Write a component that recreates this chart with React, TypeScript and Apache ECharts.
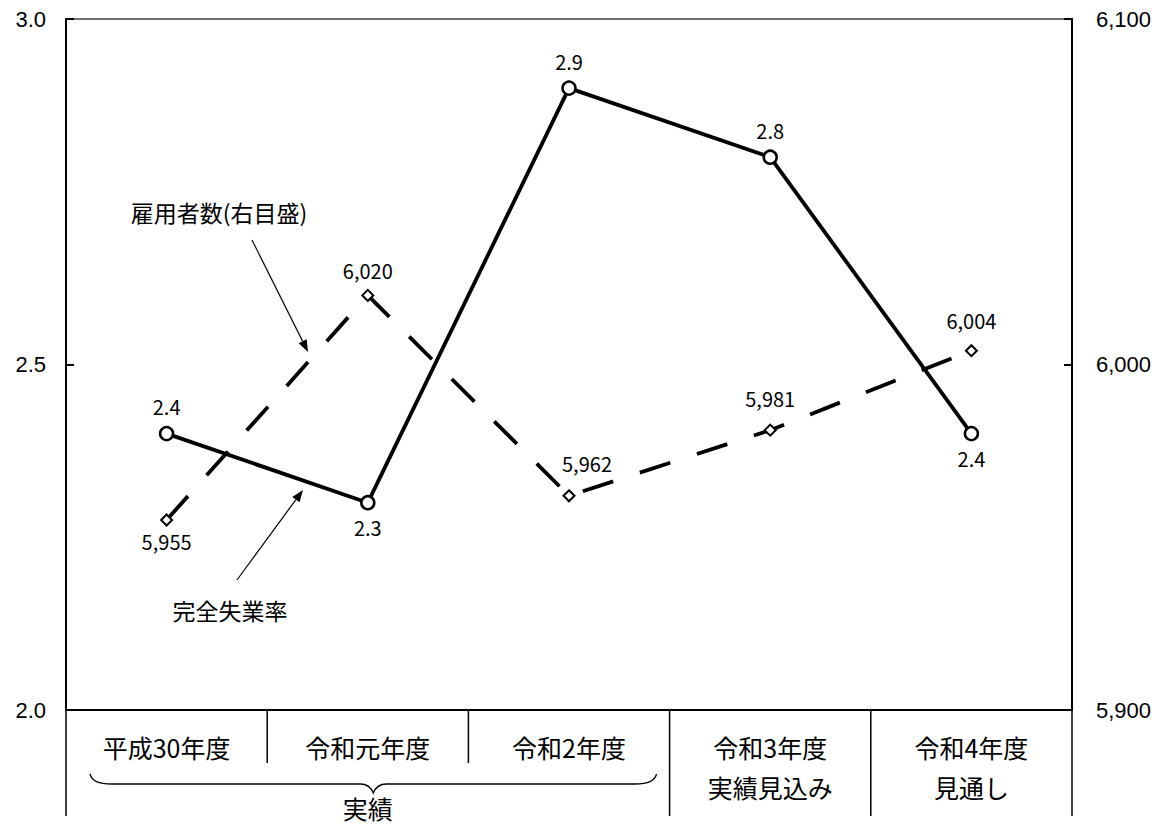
import React, { useEffect, useRef } from 'react';
import * as echarts from 'echarts';

// ---- data ----
const categories = ['平成30年度', '令和元年度', '令和2年度', '令和3年度', '令和4年度'];
const subLabels = ['', '', '', '実績見込み', '見通し'];
const groupLabel = '実績';
const groupSpan = 3; // first three categories are 実績
const rateName = '完全失業率';
const employeesName = '雇用者数(右目盛)';
const unemploymentRate = [2.4, 2.3, 2.9, 2.8, 2.4];
const employees = [5955, 6020, 5962, 5981, 6004];
const leftAxis = { min: 2.0, max: 3.0, interval: 0.5 };
const rightAxis = { min: 5900, max: 6100, interval: 100 };

// ---- label layout ----
const rateLabelPos = ['top', 'bottom', 'top', 'top', 'bottom'];
const rateLabelDist = [9, 7, 9, 9, 7];
const empLabelPos = ['bottom', 'top', 'top', 'top', 'top'];
const empLabelDist = [5, 8, 16, 15, 14];
const empLabelOffset = [[0, 0], [0, 0], [18, 0], [0, 0], [0, 0]];

const BRACE_D =
  'M0,0 C2,7 8,10 22,10 L270,10 C278,10 281,14 283,19 C285,14 288,10 296,10 L544,10 C558,10 564,7 566,0';
echarts.graphic.registerShape('brace', echarts.graphic.extendPath(BRACE_D, {}));

const JP = '"Noto Sans CJK JP", sans-serif';
const LAT = '"Liberation Sans", Arial, sans-serif';

function txt(text: string, x: number, y: number, size: number) {
  return {
    type: 'text',
    style: {
      text,
      x,
      y,
      fill: '#000',
      font: `${size}px ${JP}`,
      align: 'center',
      verticalAlign: 'middle',
      textAlign: 'center',
      textVerticalAlign: 'middle',
    },
  };
}

function arrow(x1: number, y1: number, x2: number, y2: number) {
  const dx = x2 - x1;
  const dy = y2 - y1;
  const len = Math.sqrt(dx * dx + dy * dy);
  const ux = dx / len;
  const uy = dy / len;
  const hl = 12;
  const hw = 4.5;
  const bx = x2 - ux * hl;
  const by = y2 - uy * hl;
  return [
    {
      type: 'line',
      shape: { x1, y1, x2: bx, y2: by },
      style: { stroke: '#000', lineWidth: 1.2 },
    },
    {
      type: 'polygon',
      shape: {
        points: [
          [x2, y2],
          [bx - uy * hw, by + ux * hw],
          [bx + uy * hw, by - ux * hw],
        ],
      },
      style: { fill: '#000' },
    },
  ];
}

export default function App() {
  const ref = useRef<HTMLDivElement>(null);

  useEffect(() => {
    if (!ref.current) return;
    const chart = echarts.init(ref.current, undefined, { renderer: 'svg' });
    chart.setOption({
      animation: false,
      backgroundColor: '#fff',
      grid: {
        left: 66,
        right: 96,
        top: 19,
        bottom: 115,
        show: true,
        borderColor: '#444',
        borderWidth: 1.5,
        backgroundColor: 'transparent',
      },
      xAxis: {
        type: 'category',
        data: categories,
        boundaryGap: true,
        axisLine: { lineStyle: { color: '#000', width: 2 } },
        axisTick: { show: false },
        axisLabel: {
          color: '#000',
          fontSize: 25,
          fontFamily: JP,
          margin: 24,
          interval: 0,
        },
        splitLine: { show: false },
      },
      yAxis: [
        {
          type: 'value',
          position: 'left',
          min: leftAxis.min,
          max: leftAxis.max,
          interval: leftAxis.interval,
          axisLine: { show: true, lineStyle: { color: '#000', width: 2 } },
          axisTick: { show: true, inside: true, length: 8, lineStyle: { color: '#000', width: 2 } },
          axisLabel: {
            color: '#000',
            fontSize: 22,
            fontFamily: LAT,
            margin: 20,
            formatter: (v: number) => v.toFixed(1),
          },
          splitLine: { show: false },
        },
        {
          type: 'value',
          position: 'right',
          min: rightAxis.min,
          max: rightAxis.max,
          interval: rightAxis.interval,
          axisLine: { show: true, lineStyle: { color: '#000', width: 2 } },
          axisTick: { show: true, inside: true, length: 8, lineStyle: { color: '#000', width: 2 } },
          axisLabel: {
            color: '#000',
            fontSize: 22,
            fontFamily: LAT,
            margin: 24,
            formatter: (v: number) => v.toLocaleString('en-US'),
          },
          splitLine: { show: false },
        },
      ],
      series: [
        {
          name: rateName,
          type: 'line',
          yAxisIndex: 0,
          z: 3,
          data: unemploymentRate.map((v, i) => ({
            value: v,
            label: { position: rateLabelPos[i], distance: rateLabelDist[i] },
          })),
          symbol: 'circle',
          symbolSize: 13,
          itemStyle: { color: '#fff', borderColor: '#000', borderWidth: 2.5 },
          lineStyle: { color: '#000', width: 3.8 },
          label: {
            show: true,
            color: '#000',
            fontSize: 20,
            fontFamily: JP,
            formatter: (p: any) => Number(p.value).toFixed(1),
          },
        },
        {
          name: employeesName,
          type: 'line',
          yAxisIndex: 1,
          z: 4,
          data: employees.map((v, i) => ({
            value: v,
            label: { position: empLabelPos[i], distance: empLabelDist[i], offset: empLabelOffset[i] },
          })),
          symbol: 'diamond',
          symbolSize: 11,
          itemStyle: { color: '#fff', borderColor: '#000', borderWidth: 2 },
          lineStyle: { color: '#000', width: 3.8, type: [32, 28], cap: 'butt' },
          label: {
            show: true,
            color: '#000',
            fontSize: 20,
            fontFamily: JP,
            formatter: (p: any) => Number(p.value).toLocaleString('en-US'),
          },
        },
      ],
    });

    // decorations below the category axis, positioned from the chart's scales
    const c0 = chart.convertToPixel({ xAxisIndex: 0 }, categories[0]) as number;
    const c1 = chart.convertToPixel({ xAxisIndex: 0 }, categories[1]) as number;
    const w = c1 - c0;
    const y0 = chart.convertToPixel({ yAxisIndex: 0 }, leftAxis.min) as number;
    const b = (k: number) => c0 - w / 2 + k * w;

    const elements: any[] = [];
    for (let k = 0; k <= categories.length; k++) {
      const inGroup = k > 0 && k < groupSpan;
      elements.push({
        type: 'line',
        shape: { x1: b(k), y1: y0, x2: b(k), y2: y0 + (inGroup ? 53 : 106) },
        style: { stroke: '#000', lineWidth: 1.5 },
      });
    }
    subLabels.forEach((s, i) => {
      if (s) elements.push(txt(s, c0 + i * w, y0 + 77, 25));
    });
    const braceL = b(0) + 24;
    const braceR = b(groupSpan) - 13;
    elements.push({
      type: 'brace',
      x: braceL,
      y: y0 + 64,
      scaleX: (braceR - braceL) / 566,
      scaleY: 1,
      style: { stroke: '#000', fill: 'none', lineWidth: 1.3 },
    });
    elements.push(txt(groupLabel, c0 + ((groupSpan - 1) / 2) * w, y0 + 98, 25));

    // annotations
    elements.push(txt(employeesName, 219, 212, 23));
    elements.push(...arrow(252, 240, 308, 352));
    elements.push(txt(rateName, 230, 610, 23));
    elements.push(...arrow(237, 580, 303, 490));

    chart.setOption({ graphic: { elements } });

    return () => chart.dispose();
  }, []);

  return (
    <div
      ref={ref}
      style={{ position: 'absolute', left: 0, top: 0, width: 1168, height: 825, background: '#fff' }}
    />
  );
}
